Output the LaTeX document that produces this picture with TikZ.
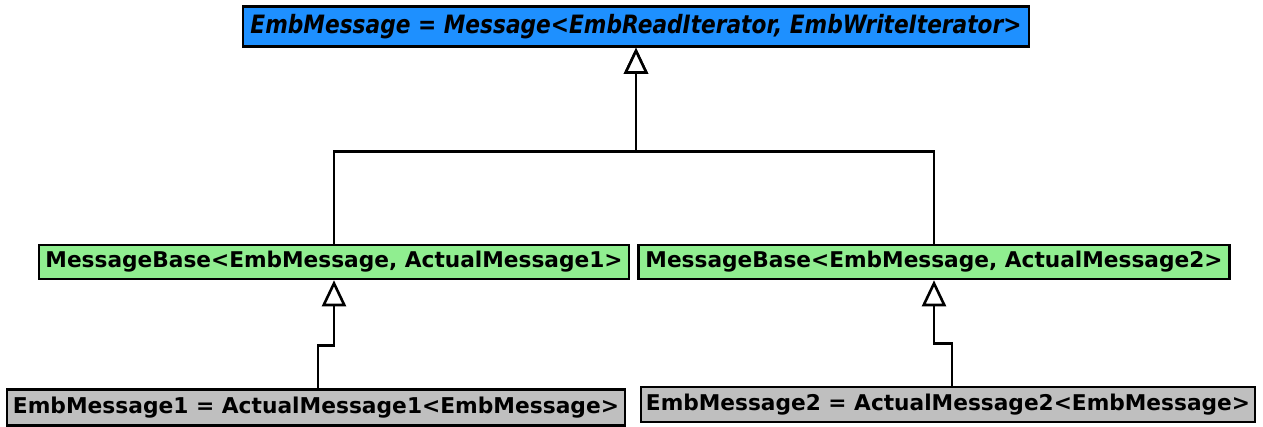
\documentclass[tikz,border=0pt]{standalone}
\usepackage{fontspec}
\setmainfont{DejaVu Sans}
\newfontfamily\condfont[FakeStretch=0.86]{DejaVu Sans}
\usetikzlibrary{arrows.meta}
\definecolor{embblue}{HTML}{1E90FF}
\definecolor{basegreen}{HTML}{90EE90}
\definecolor{leafgray}{HTML}{BFBFBF}
% scale a label to a given width
\newcommand{\fitw}[2]{\resizebox{#1}{!}{#2}}
\begin{document}
\begin{tikzpicture}[x=1pt,y=-1pt,
  cls/.style={draw=black, line width=2.6pt, inner sep=0pt, text=black},
  inh/.style={draw=black, line width=2.6pt,
    -{Triangle[open, length=26pt, width=24pt, fill=white]}}]
\useasboundingbox (0,0) rectangle (1263,426);

% classes
\node[cls, fill=embblue, minimum width=786pt, minimum height=40pt] (emb) at (636,26.5)
  {\fitw{771pt}{\condfont\bfseries\itshape EmbMessage = Message<EmbReadIterator, EmbWriteIterator>}};
\node[cls, fill=basegreen, minimum width=590pt, minimum height=34pt] (m1) at (334,262)
  {\fitw{577pt}{\bfseries MessageBase<EmbMessage, ActualMessage1>}};
\node[cls, fill=basegreen, minimum width=591pt, minimum height=34pt] (m2) at (934,262)
  {\fitw{577pt}{\bfseries MessageBase<EmbMessage, ActualMessage2>}};
\node[cls, fill=leafgray, minimum width=618pt, minimum height=36pt] (e1) at (316,407.5)
  {\fitw{606pt}{\bfseries EmbMessage1 = ActualMessage1<EmbMessage>}};
\node[cls, fill=leafgray, minimum width=614pt, minimum height=35pt] (e2) at (948,404.5)
  {\fitw{604pt}{\bfseries EmbMessage2 = ActualMessage2<EmbMessage>}};

% inheritance
\draw[inh] (m1.north) -- ++(0,-92) -| (emb.south);
\draw[inh] (m2.north) -- ++(0,-92) -| (emb.south);
\draw[inh] ([xshift=2pt]e1.north) -- ++(0,-43) -| (m1.south);
\draw[inh] ([xshift=4pt]e2.north) -- ++(0,-42) -| (m2.south);
\end{tikzpicture}
\end{document}
